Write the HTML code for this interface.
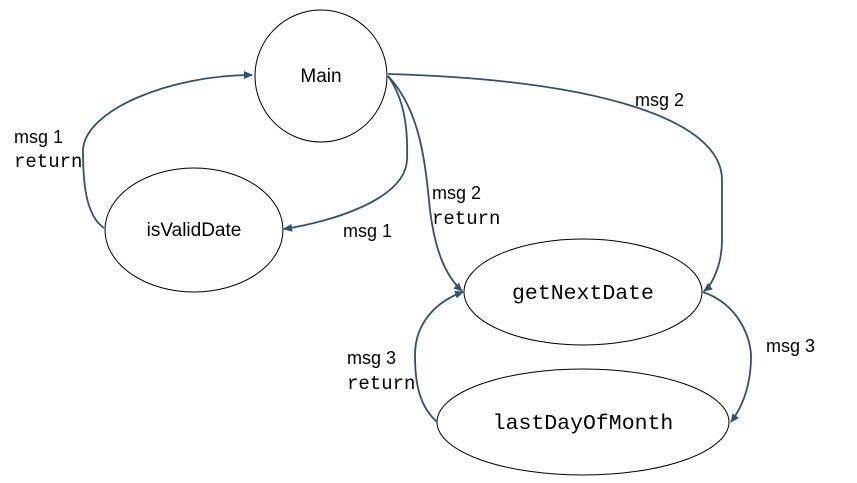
<!DOCTYPE html>
<html><head><meta charset="utf-8"><style>
html,body{margin:0;padding:0;background:#fff;}
svg{display:block;}
.s{font-family:"Liberation Sans",sans-serif;font-size:18px;fill:#000;}
.m{font-family:"Liberation Mono",monospace;font-size:19px;fill:#000;}
.e{fill:#fff;stroke:#000;stroke-width:1;}
.c{fill:none;stroke:#2f5173;stroke-width:1.8;}
</style></head><body>
<svg width="857" height="483" viewBox="0 0 857 483">
<defs><marker id="a" markerWidth="10" markerHeight="10" refX="8" refY="5" orient="auto" markerUnits="userSpaceOnUse"><path d="M0,1 L9,5 L0,9 z" fill="#2f5173"/></marker></defs>
<circle class="e" cx="321" cy="76" r="66"/>
<ellipse class="e" cx="194" cy="230" rx="89" ry="62"/>
<ellipse class="e" cx="583" cy="292" rx="119" ry="53"/>
<ellipse class="e" cx="583" cy="422" rx="146" ry="53"/>
<path class="c" marker-end="url(#a)" d="M104,228 C85,215 83,180 83,150 C85,110 170,75 252,75"/>
<path class="c" marker-end="url(#a)" d="M388,76 C405,100 408,130 407,160 C405,200 330,222 284,229"/>
<path class="c" marker-end="url(#a)" d="M388,76 C420,110 425,160 430,210 C435,250 445,275 462,291"/>
<path class="c" marker-end="url(#a)" d="M388,74 C600,80 722,120 722,180 L722,240 C722,265 712,285 704,291"/>
<path class="c" marker-end="url(#a)" d="M703,292 C740,305 752,340 751,360 C750,390 740,410 731,422"/>
<path class="c" marker-end="url(#a)" d="M437,422 C418,405 415,380 415,355 C415,320 440,300 463,292"/>
<text class="s" x="321" y="82" text-anchor="middle" style="font-size:19px">Main</text>
<text class="s" x="194" y="236" text-anchor="middle" style="font-size:19px">isValidDate</text>
<text class="m" x="583" y="299" text-anchor="middle" style="font-size:21.5px">getNextDate</text>
<text class="m" x="583" y="429" text-anchor="middle" style="font-size:21.5px">lastDayOfMonth</text>
<text class="s" x="14" y="143">msg 1</text>
<text class="m" x="14" y="167">return</text>
<text class="s" x="343" y="237">msg 1</text>
<text class="s" x="635" y="106">msg 2</text>
<text class="s" x="432" y="199">msg 2</text>
<text class="m" x="432" y="224">return</text>
<text class="s" x="766" y="352">msg 3</text>
<text class="s" x="347" y="364">msg 3</text>
<text class="m" x="347" y="389">return</text>
</svg>
</body></html>
